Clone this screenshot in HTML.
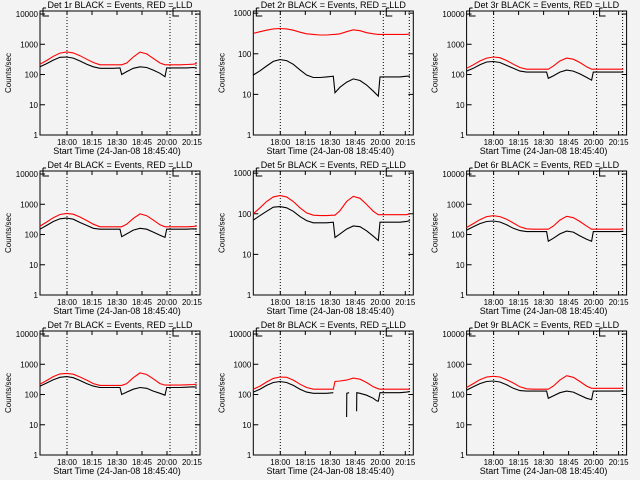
<!DOCTYPE html>
<html><head><meta charset="utf-8"><style>
html,body{margin:0;padding:0;background:#f3f3f3;}
svg{display:block;font-family:"Liberation Sans",sans-serif;}
</style></head><body>
<svg id="chart" width="640" height="480" viewBox="0 0 640 480" xmlns="http://www.w3.org/2000/svg">
<rect x="0" y="0" width="640" height="480" fill="#f3f3f3"/>
</svg>
<script>
const times = [0,4,8,12,16,20,24,28,32,36,40,44,48,49,52,56,60,64,68,72,75,76,80,84,88,92,94];
const titles = ["Det 1r BLACK = Events, RED = LLD","Det 2r BLACK = Events, RED = LLD","Det 3r BLACK = Events, RED = LLD","Det 4r BLACK = Events, RED = LLD","Det 5r BLACK = Events, RED = LLD","Det 6r BLACK = Events, RED = LLD","Det 7r BLACK = Events, RED = LLD","Det 8r BLACK = Events, RED = LLD","Det 9r BLACK = Events, RED = LLD"];
const yMaxes = [12600,1130,12600,12600,1130,12600,12600,12600,12600];
const red1 = [220,290,400,510,560,520,420,320,250,210,210,210,210,210,240,380,550,480,340,240,210,210,210,210,215,220,230];
const black1 = [180,230,300,370,380,350,280,220,180,160,160,160,165,100,125,160,180,170,140,110,85,165,165,165,165,170,165];
const red2 = [320,350,380,410,420,410,380,340,310,300,290,290,300,300,310,350,390,370,330,310,300,300,300,300,300,300,310];
const black2 = [30,38,50,65,72,68,55,40,30,26,26,27,28,11,15,20,24,22,17,12,9,27,27,27,27,28,28];
const red3 = [160,210,280,350,380,360,290,220,170,150,150,150,150,150,190,280,350,320,250,180,150,150,150,150,150,150,150];
const black3 = [130,160,210,260,270,250,200,160,130,120,120,120,120,75,90,120,140,130,105,80,65,120,120,120,120,120,120];
const red4 = [190,260,360,460,500,470,380,290,220,180,180,180,180,180,220,340,480,420,300,210,180,180,180,180,180,185,190];
const black4 = [150,200,270,330,350,320,250,200,160,150,150,150,150,85,105,140,160,150,120,95,80,150,150,150,150,155,150];
const red5 = [100,140,200,260,280,260,200,140,105,92,90,90,92,92,120,200,270,240,170,115,95,95,95,95,95,95,100];
const black5 = [70,90,115,145,150,140,115,85,68,60,60,60,62,26,32,42,50,48,38,28,22,62,62,62,62,65,68];
const red6 = [170,230,310,390,420,390,320,240,180,155,150,150,150,150,190,300,400,360,270,190,150,150,150,150,150,150,155];
const black6 = [140,180,230,270,280,260,210,160,135,125,125,125,125,60,75,105,130,120,90,70,60,125,125,125,125,125,130];
const red7 = [220,290,390,480,500,470,380,300,230,200,200,200,200,200,230,360,520,460,330,230,205,205,205,205,210,215,220];
const black7 = [190,240,310,370,390,360,290,230,190,170,170,170,170,100,120,150,170,160,130,110,95,170,170,170,175,180,175];
const red8 = [150,190,260,340,380,370,300,220,170,150,150,150,150,270,280,300,350,320,250,180,155,150,150,150,150,150,150];
const times8b = [0,4,8,12,16,20,24,28,32,36,40,44,48,50,56,56.1,57.5,59,62,62.1,64,68,72,74,75,76,80,84,88,92,94];
const black8 = [120,150,200,250,270,250,200,150,120,110,110,110,115,null,18,110,115,null,28,115,110,95,75,62,60,115,115,115,115,120,125];
const red9 = [170,230,310,380,400,380,310,240,180,155,150,150,150,150,190,300,420,370,270,190,160,160,160,160,160,160,165];
const black9 = [140,180,230,270,280,260,210,160,135,130,130,130,130,75,90,115,130,120,95,75,68,130,130,130,130,130,135];
const xTickTimes = [16.2,31.2,46.2,61.2,76.2,91.2];
const xTickLabels = ["18:00","18:15","18:30","18:45","20:00","20:15"];
const dottedTimes = [16.2,78,93.6];
const yTicks12 = [1,10,100,1000,10000];
const yTicks2 = [1,10,100,1000];

const reds=[red1,red2,red3,red4,red5,red6,red7,red8,red9];
const blacks=[black1,black2,black3,black4,black5,black6,black7,black8,black9];
const svg=document.getElementById('chart');
const NS='http://www.w3.org/2000/svg';
function mk(tag,attrs,parent){const e=document.createElementNS(NS,tag);for(const k in attrs)e.setAttribute(k,attrs[k]);(parent||svg).appendChild(e);return e;}

for(let p=0;p<9;p++){
  const col=p%3,row=Math.floor(p/3);
  const ox=col*213.3, oy=row*160;
  const X0=ox+40,X1=ox+200,Y0=oy+11,Y1=oy+135;
  const ymax=yMaxes[p];
  const xs=t=>X0+t/96*(X1-X0);
  const ys=v=>Y1-Math.log10(v)/Math.log10(ymax)*(Y1-Y0);
  const g=mk('g',{});
  
  
  const title=mk('text',{x:(X0+X1)/2,y:oy+8,'text-anchor':'middle','font-size':'9',fill:'#000'},g);
  title.textContent=titles[p];
  
  
  const box=mk('rect',{x:X0,y:Y0,width:X1-X0,height:Y1-Y0,fill:'none',stroke:'#000','stroke-width':1},g);
  
  
  const yt=ymax>5000?yTicks12:yTicks2;
  yt.forEach(v=>{
    const y=ys(v);
    mk('line',{x1:X0,x2:X0+5,y1:y,y2:y,stroke:'#000'},g);
    mk('line',{x1:X1-5,x2:X1,y1:y,y2:y,stroke:'#000'},g);
    const tl=mk('text',{x:X0-2,y:y+3,'text-anchor':'end','font-size':'8',fill:'#000'},g);
    tl.textContent=String(v);
    
    
  });
  const yl=mk('text',{x:0,y:0,'text-anchor':'middle','font-size':'8',fill:'#000',transform:`translate(${ox+11},${(Y0+Y1)/2}) rotate(-90)`},g);
  yl.textContent='Counts/sec';
  
  
  xTickTimes.forEach((t,i)=>{
    const x=xs(t);
    mk('line',{x1:x,x2:x,y1:Y1,y2:Y1-4,stroke:'#000'},g);
    mk('line',{x1:x,x2:x,y1:Y0,y2:Y0+4,stroke:'#000'},g);
    const tl=mk('text',{x:x,y:oy+145,'text-anchor':'middle','font-size':'8',fill:'#000'},g);
    tl.textContent=xTickLabels[i];
    
    
  });
  const xl=mk('text',{x:(X0+X1)/2-3,y:oy+154,'text-anchor':'middle','font-size':'9',fill:'#000'},g);
  xl.textContent='Start Time (24-Jan-08 18:45:40)';
  
  
  dottedTimes.forEach(t=>{
    const l=mk('line',{x1:xs(t),x2:xs(t),y1:Y0,y2:Y1,stroke:'#000','stroke-dasharray':'1,2'},g);
    
    
  });
  [X0+3,xs(78)+3].forEach(x=>{
    const m=mk('path',{d:`M${x} ${Y0-3}V${Y0+5}H${x+6}M${x} ${Y0-3}H${x+3}`,stroke:'#000',fill:'none'},g);
    
    
  });
  function line(tArr,vArr,color,name){
    let d='',pen=false;
    for(let i=0;i<tArr.length;i++){
      const v=vArr[i];
      if(v==null){pen=false;continue;}
      d+=(pen?'L':'M')+xs(tArr[i]).toFixed(1)+' '+ys(v).toFixed(1);
      pen=true;
    }
    const pl=mk('path',{d:d,stroke:color,fill:'none','stroke-width':1.1},g);
    
    
  }
  line(times,reds[p],'#ff0000','lld-series');
  line(p===7?times8b:times,blacks[p],'#000000','events-series');
}
</script>
</body></html>
